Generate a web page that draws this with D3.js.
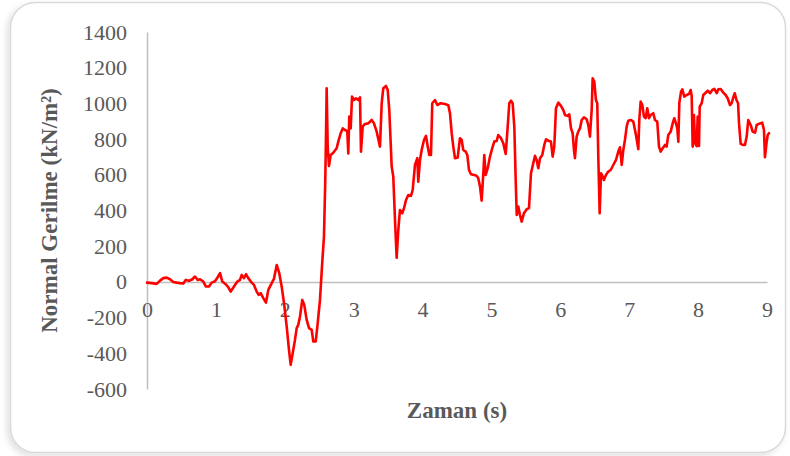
<!DOCTYPE html>
<html>
<head>
<meta charset="utf-8">
<script src="https://cdn.jsdelivr.net/npm/d3@7"></script>
<style>
  html, body { margin: 0; padding: 0; background: #ffffff; }
  svg { display: block; }
</style>
</head>
<body>
<svg id="chart" width="790" height="456"></svg>
<script>
// Time (s) of each sample
const timeSec = [
  0.000, 0.068, 0.141, 0.189, 0.237, 0.286, 0.334, 0.382, 0.431, 0.479,
  0.527, 0.562, 0.610, 0.658, 0.697, 0.736, 0.769, 0.817, 0.856, 0.900,
  0.939, 0.987, 1.026, 1.060, 1.093, 1.142, 1.180, 1.215, 1.263, 1.311,
  1.350, 1.375, 1.408, 1.437, 1.470, 1.520, 1.553, 1.592, 1.621, 1.650,
  1.688, 1.727, 1.761, 1.810, 1.843, 1.883, 1.920, 1.955, 1.989, 2.028,
  2.061, 2.086, 2.115, 2.148, 2.173, 2.196, 2.221, 2.254, 2.283, 2.318,
  2.352, 2.391, 2.414, 2.449, 2.478, 2.511, 2.540, 2.569, 2.588, 2.603,
  2.608, 2.623, 2.642, 2.666, 2.704, 2.753, 2.777, 2.812, 2.841, 2.874,
  2.907, 2.922, 2.936, 2.957, 2.976, 3.005, 3.034, 3.067, 3.092, 3.106,
  3.131, 3.164, 3.212, 3.262, 3.295, 3.334, 3.382, 3.407, 3.430, 3.469,
  3.494, 3.517, 3.552, 3.575, 3.600, 3.624, 3.648, 3.672, 3.706, 3.731,
  3.760, 3.793, 3.832, 3.857, 3.890, 3.924, 3.938, 3.963, 3.987, 4.021,
  4.050, 4.075, 4.098, 4.122, 4.141, 4.181, 4.214, 4.263, 4.326, 4.374,
  4.398, 4.423, 4.446, 4.471, 4.510, 4.543, 4.568, 4.591, 4.626, 4.650,
  4.674, 4.703, 4.751, 4.786, 4.809, 4.834, 4.858, 4.882, 4.896, 4.917,
  4.946, 4.979, 5.012, 5.041, 5.076, 5.099, 5.138, 5.172, 5.207, 5.236,
  5.259, 5.284, 5.308, 5.332, 5.352, 5.367, 5.390, 5.414, 5.439, 5.472,
  5.512, 5.545, 5.574, 5.607, 5.632, 5.656, 5.680, 5.705, 5.738, 5.767,
  5.792, 5.825, 5.864, 5.889, 5.912, 5.937, 5.970, 6.009, 6.043, 6.068,
  6.101, 6.130, 6.155, 6.179, 6.198, 6.212, 6.237, 6.260, 6.285, 6.310,
  6.343, 6.382, 6.406, 6.430, 6.455, 6.469, 6.493, 6.517, 6.536, 6.551,
  6.571, 6.590, 6.615, 6.633, 6.662, 6.696, 6.731, 6.769, 6.808, 6.841,
  6.866, 6.891, 6.914, 6.938, 6.963, 6.986, 7.025, 7.059, 7.098, 7.132,
  7.146, 7.166, 7.190, 7.214, 7.239, 7.262, 7.287, 7.311, 7.349, 7.374,
  7.407, 7.432, 7.457, 7.486, 7.519, 7.543, 7.567, 7.602, 7.631, 7.654,
  7.679, 7.698, 7.713, 7.727, 7.752, 7.771, 7.799, 7.834, 7.868, 7.892,
  7.907, 7.921, 7.940, 7.955, 7.979, 7.994, 8.013, 8.023, 8.052, 8.075,
  8.110, 8.139, 8.173, 8.206, 8.235, 8.270, 8.293, 8.328, 8.366, 8.400,
  8.429, 8.463, 8.487, 8.507, 8.532, 8.557, 8.580, 8.594, 8.618, 8.656,
  8.680, 8.705, 8.728, 8.763, 8.792, 8.826, 8.850, 8.898, 8.931, 8.956,
  8.970, 8.995, 9.010, 9.029
];

// Normal stress (kN/m²) at each sample
const normalStress = [
    -4,   -7,  -11,    7,   21,   24,   15,    0,   -4,   -7,
    -9,   11,    6,   15,   30,   11,   15,    2,  -26,  -26,
    -4,    4,   26,   49,    2,  -13,  -30,  -54,  -26,    2,
    11,   39,   21,   43,   21,   -4,  -17,  -54,  -73,  -63,
   -91, -116,  -45,   -7,   17,   95,   49,  -26, -119, -250,
  -381, -465, -400, -325, -259, -240, -194, -101, -129, -213,
  -259, -269, -334, -334, -231, -101,   86,  254,  571,  940,
  1085,  758,  650,  711,  724,  749,  786,  833,  860,  851,
   845,  720,  926,  860, 1038, 1019, 1029, 1019, 1034,  730,
   870,  885,  888,  907,  888,  842,  758, 1001, 1085, 1098,
  1075,  963,  646,  590,  347,  135,  291,  403,  385,  413,
   459,  487,  482,  515,  655,  693,  562,  683,  739,  795,
   818,  758,  711,  711, 1001, 1019,  991, 1001,  997,  990,
   945,  833,  758,  693,  697,  805,  795,  739,  730,  711,
   627,  603,  599,  594,  581,  534,  455,  609,  711,  599,
   637,  702,  749,  786,  790,  823,  805,  777,  717,  870,
  1001, 1015, 1001,  870,  571,  375,  422,  375,  338,  385,
   407,  413,  609,  665,  706,  683,  637,  693,  711,  767,
   799,  791,  786,  702,  758,  973, 1004,  986,  963,  935,
   930,  939,  860,  833,  739,  693,  814,  842,  860,  907,
   922,  911,  879,  814,  963, 1141, 1122, 1019, 1001,  702,
   385,  609,  590,  571,  599,  618,  627,  655,  683,  730,
   754,  655,  739,  795,  870,  903,  907,  898,  823,  743,
   907, 1010,  991,  926,  917,  973,  917,  935,  945,  907,
   898,  758,  730,  749,  767,  758,  823,  842,  888,  917,
   888,  860,  786, 1001, 1066, 1079, 1038, 1047, 1053, 1075,
  1040,  758,  935,  777,  760,  926,  762,  982, 1001, 1047,
  1060, 1071, 1057, 1075, 1081, 1057, 1079, 1081, 1060, 1047,
  1029,  991, 1001, 1029, 1057, 1019, 1001,  888,  773,  767,
   767,  814,  907,  879,  842,  836,  879,  888,  892,  851,
   698,  784,  823,  833
];

const xTickValues = [0, 1, 2, 3, 4, 5, 6, 7, 8, 9];
const yTickValues = [-600, -400, -200, 0, 200, 400, 600, 800, 1000, 1200, 1400];

const xTitle = "Zaman (s)";
const yTitle = "Normal Gerilme (kN/m²)";

const svg = d3.select("#chart");
const W = 790, H = 456;
const textColor = "#595959";
const axisColor = "#bfbfbf";
const fontFamily = "'Liberation Serif', 'Times New Roman', serif";
// plain hyphen for negative numbers
const plainNumber = d => String(d);

// Card background with a soft shadow
const defs = svg.append("defs");
const shadow = defs.append("filter").attr("id", "cardShadow")
  .attr("x", "-5%").attr("y", "-5%").attr("width", "110%").attr("height", "115%");
shadow.append("feDropShadow")
  .attr("dx", -3).attr("dy", 3).attr("stdDeviation", 3)
  .attr("flood-color", "#000").attr("flood-opacity", 0.12);

svg.append("rect").attr("width", W).attr("height", H).attr("fill", "#ffffff");
svg.append("rect")
  .attr("x", 10.5).attr("y", 2.5)
  .attr("width", 775).attr("height", 450)
  .attr("rx", 25).attr("ry", 25)
  .attr("fill", "#ffffff")
  .attr("stroke", "#d9d9d9")
  .attr("stroke-width", 1.5)
  .attr("filter", "url(#cardShadow)");

// Scales
const x = d3.scaleLinear().domain([0, 9]).range([147, 767]);
const y = d3.scaleLinear().domain([-600, 1400]).range([389, 32]);

// Y axis
const yAxis = svg.append("g")
  .attr("transform", `translate(${x(0)},0)`)
  .call(d3.axisLeft(y).tickValues(yTickValues).tickSize(0).tickSizeOuter(0).tickPadding(20)
    .tickFormat(plainNumber));
yAxis.select(".domain").attr("stroke", axisColor).attr("stroke-width", 1.5);
yAxis.selectAll("text")
  .attr("fill", textColor)
  .style("font-family", fontFamily)
  .style("font-size", "22px");

// X axis on the zero line
const xAxis = svg.append("g")
  .attr("transform", `translate(0,${y(0)})`)
  .call(d3.axisBottom(x).tickValues(xTickValues).tickSize(0).tickSizeOuter(0).tickPadding(19)
    .tickFormat(plainNumber));
xAxis.select(".domain").attr("stroke", axisColor).attr("stroke-width", 1.5);
xAxis.selectAll("text")
  .attr("fill", textColor)
  .style("font-family", fontFamily)
  .style("font-size", "22px");

// Stress curve
const series = timeSec.map((t, i) => ({ t, v: normalStress[i] }));
const line = d3.line().x(d => x(d.t)).y(d => y(d.v));
svg.append("path")
  .datum(series)
  .attr("d", line)
  .attr("fill", "none")
  .attr("stroke", "#ff0000")
  .attr("stroke-width", 2.6)
  .attr("stroke-linejoin", "round")
  .attr("stroke-linecap", "round");

// Axis titles
svg.append("text")
  .attr("x", (x(0) + x(9)) / 2)
  .attr("y", 418)
  .attr("text-anchor", "middle")
  .attr("fill", textColor)
  .style("font-family", fontFamily)
  .style("font-size", "23px")
  .style("font-weight", "bold")
  .text(xTitle);

svg.append("text")
  .attr("transform", `translate(57,${(y(-600) + y(1400)) / 2}) rotate(-90)`)
  .attr("text-anchor", "middle")
  .attr("fill", textColor)
  .style("font-family", fontFamily)
  .style("font-size", "23px")
  .style("font-weight", "bold")
  .text(yTitle);
</script>
</body>
</html>
